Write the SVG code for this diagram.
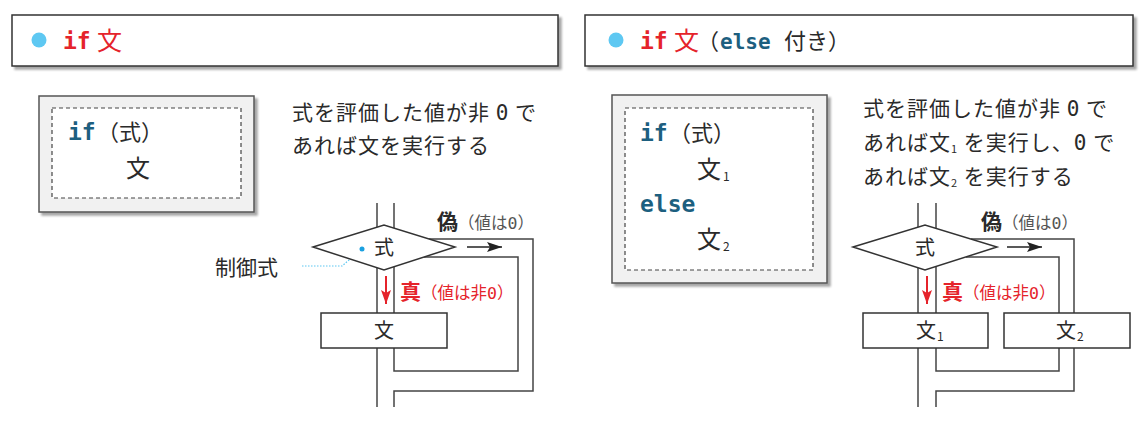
<svg xmlns="http://www.w3.org/2000/svg" width="1148" height="434" viewBox="0 0 1148 434">
<defs>
<style>
.hdr{fill:#fff;stroke:#333;stroke-width:1.5}
.code{fill:#f1f1f1;stroke:#555;stroke-width:1.5}
.dash{fill:#fff;stroke:#444;stroke-width:1.2;stroke-dasharray:4 3}
.nd{fill:#fff;stroke:#333;stroke-width:1.5}
.ln{fill:none;stroke:#444;stroke-width:1.5}
.jp{font-family:"Noto Sans CJK JP","Noto Sans",sans-serif;fill:#2a2a2a}
.kw{font-family:"DejaVu Sans Mono","Liberation Mono",monospace;font-weight:bold;fill:#1d5f7f}
.kwr{font-family:"DejaVu Sans Mono","Liberation Mono",monospace;font-weight:bold;fill:#e5232b}
.red{fill:#e5232b}
.gray{fill:#555}
.zero{font-family:"DejaVu Sans Mono","Liberation Mono",monospace}
.dot{fill:#5ec8f2}
.lb{font-size:21px;font-weight:bold}
.lp{font-size:16.5px}
</style>
<filter id="sh" x="-5%" y="-5%" width="115%" height="125%">
<feDropShadow dx="3" dy="3" stdDeviation="1.2" flood-color="#000" flood-opacity="0.35"/>
</filter>
<marker id="ab" viewBox="0 0 15 10" refX="15" refY="5" markerWidth="15" markerHeight="10" markerUnits="userSpaceOnUse" orient="auto">
<path d="M0,0 L15,5 L0,10 L3,5 z" fill="#222"/>
</marker>
<marker id="ar" viewBox="0 0 14 10" refX="14" refY="5" markerWidth="14" markerHeight="10" markerUnits="userSpaceOnUse" orient="auto">
<path d="M0,0 L14,5 L0,10 L3,5 z" fill="#e5232b"/>
</marker>
</defs>
<rect width="1148" height="434" fill="#fff"/>

<!-- LEFT PANEL -->
<g id="header-if">
<rect class="hdr" x="12" y="15" width="546" height="51" filter="url(#sh)"/>
<circle class="dot" cx="39" cy="40" r="7.5"/>
<text x="63" y="49" font-size="23" class="kwr">if</text>
<text x="97" y="50" font-size="25" class="jp red">文</text>
</g>

<g id="code-if">
<rect class="code" x="39" y="96" width="215" height="116" filter="url(#sh)"/>
<rect class="dash" x="52" y="108" width="189" height="90"/>
<text y="140" font-size="23"><tspan x="68" class="kw">if</tspan><tspan x="97" class="jp" font-size="22">（式）</tspan></text>
<text x="126" y="177" font-size="24" class="jp">文</text>
</g>

<g id="desc-if" class="jp" font-size="21" letter-spacing="1">
<text x="292" y="120">式を評価した値が非 <tspan class="zero">0</tspan> で</text>
<text x="292" y="153">あれば文を実行する</text>
</g>

<g id="connectors-left">
<line class="ln" x1="377" y1="203" x2="377" y2="227"/>
<line class="ln" x1="394" y1="203" x2="394" y2="228"/>
<line class="ln" x1="377" y1="268" x2="377" y2="313"/>
<line class="ln" x1="394" y1="267" x2="394" y2="313"/>
<line class="ln" x1="377" y1="348" x2="377" y2="407"/>
<polyline class="ln" points="394,348 394,371 518,371 518,257 424,257"/>
<polyline class="ln" points="429,239 533,239 533,391 394,391 394,407"/>
<line x1="467" y1="247" x2="502" y2="247" stroke="#222" stroke-width="1.5" marker-end="url(#ab)"/>
<line x1="386" y1="276" x2="386" y2="304" stroke="#e5232b" stroke-width="2" marker-end="url(#ar)"/>
<polyline points="302,266 342,266 362,249" fill="none" stroke="#5ec8f2" stroke-width="1.2" stroke-dasharray="1.5 1.5"/>
</g>

<g id="decision-left">
<polygon class="nd" points="313,247 384,225 455,247 384,270"/>
<text x="384" y="255" font-size="20" text-anchor="middle" class="jp">式</text>
<circle cx="362" cy="249" r="2.5" fill="#1aa0e0"/>
</g>

<g id="stmt-left">
<rect class="nd" x="321" y="313" width="126" height="35"/>
<text x="384" y="338" font-size="20" text-anchor="middle" class="jp">文</text>
</g>

<g id="label-ctrl">
<text x="215" y="275" font-size="21" class="jp">制御式</text>
</g>

<g id="label-false-left">
<text x="437" y="229" class="jp"><tspan class="lb">偽</tspan><tspan class="lp gray">（値は<tspan class="zero">0</tspan>）</tspan></text>
</g>

<g id="label-true-left">
<text x="400" y="299" class="jp red"><tspan class="lb">真</tspan><tspan class="lp">（値は非<tspan class="zero">0</tspan>）</tspan></text>
</g>

<!-- RIGHT PANEL -->
<g id="header-ifelse">
<rect class="hdr" x="585" y="15" width="548" height="51" filter="url(#sh)"/>
<circle class="dot" cx="616" cy="40" r="7.5"/>
<text x="640" y="49" font-size="23" class="kwr">if</text>
<text x="674" y="50" font-size="25" class="jp red">文</text>
<text x="697" y="49" font-size="22" class="jp">（</text>
<text x="720" y="49" font-size="21" class="kw">else</text>
<text x="784" y="49" font-size="22" class="jp">付き）</text>
</g>

<g id="code-ifelse">
<rect class="code" x="612" y="95" width="215" height="188" filter="url(#sh)"/>
<rect class="dash" x="625" y="108" width="188" height="162"/>
<text y="141" font-size="23"><tspan x="640" class="kw">if</tspan><tspan x="669" class="jp" font-size="22">（式）</tspan></text>
<text x="697" y="178" font-size="24" class="jp">文<tspan font-size="12" dy="3" dx="2">1</tspan></text>
<text x="640" y="212" font-size="23" class="kw">else</text>
<text x="697" y="248" font-size="24" class="jp">文<tspan font-size="12" dy="3" dx="2">2</tspan></text>
</g>

<g id="desc-ifelse" class="jp" font-size="21" letter-spacing="1">
<text x="863" y="116">式を評価した値が非 <tspan class="zero">0</tspan> で</text>
<text x="863" y="150">あれば文<tspan font-size="11" dy="3">1</tspan><tspan dy="-3"> を実行し、<tspan class="zero">0</tspan> で</tspan></text>
<text x="863" y="184">あれば文<tspan font-size="11" dy="3">2</tspan><tspan dy="-3"> を実行する</tspan></text>
</g>

<g id="connectors-right">
<line class="ln" x1="918" y1="203" x2="918" y2="227"/>
<line class="ln" x1="936" y1="203" x2="936" y2="228"/>
<line class="ln" x1="918" y1="268" x2="918" y2="313"/>
<line class="ln" x1="936" y1="267" x2="936" y2="313"/>
<line class="ln" x1="918" y1="348" x2="918" y2="407"/>
<polyline class="ln" points="936,348 936,371 1059,371 1059,348"/>
<polyline class="ln" points="1059,313 1059,257 966,257"/>
<polyline class="ln" points="971,239 1074,239 1074,313"/>
<polyline class="ln" points="1074,348 1074,391 936,391 936,407"/>
<line x1="1007" y1="247" x2="1042" y2="247" stroke="#222" stroke-width="1.5" marker-end="url(#ab)"/>
<line x1="927" y1="276" x2="927" y2="304" stroke="#e5232b" stroke-width="2" marker-end="url(#ar)"/>
</g>

<g id="decision-right">
<polygon class="nd" points="853,247 925,225 997,247 925,270"/>
<text x="925" y="255" font-size="20" text-anchor="middle" class="jp">式</text>
</g>

<g id="stmt1-right">
<rect class="nd" x="863" y="313" width="125" height="35"/>
<text x="916" y="338" font-size="20" class="jp">文<tspan font-size="12" dy="3" dx="1">1</tspan></text>
</g>

<g id="stmt2-right">
<rect class="nd" x="1004" y="313" width="126" height="35"/>
<text x="1056" y="338" font-size="20" class="jp">文<tspan font-size="12" dy="3" dx="1">2</tspan></text>
</g>

<g id="label-false-right">
<text x="981" y="229" class="jp"><tspan class="lb">偽</tspan><tspan class="lp gray">（値は<tspan class="zero">0</tspan>）</tspan></text>
</g>

<g id="label-true-right">
<text x="942" y="299" class="jp red"><tspan class="lb">真</tspan><tspan class="lp">（値は非<tspan class="zero">0</tspan>）</tspan></text>
</g>
</svg>
